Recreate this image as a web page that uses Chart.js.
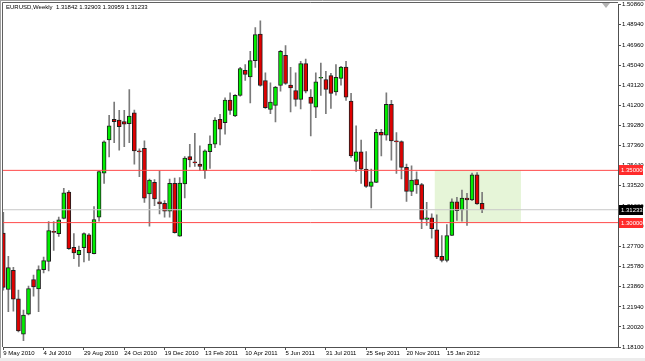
<!DOCTYPE html>
<html>
<head>
<meta charset="utf-8">
<script src="https://cdn.jsdelivr.net/npm/chart.js@4.4.1/dist/chart.umd.min.js"></script>
<style>
html, body { margin: 0; padding: 0; background: #fff; }
#wrap { width: 645px; height: 361px; }
</style>
</head>
<body>
<div id="wrap"><canvas id="chart"></canvas></div>
<script>
const symbolTitle = 'EURUSD,Weekly  1.31842 1.32903 1.30959 1.31233';

// weekly bars, first bar = week of 9 May 2010
const opens = [
  1.2899, 1.2360, 1.2544, 1.2271, 1.1932, 1.2125, 1.2456, 1.2366, 1.2551, 1.2630,
  1.2911, 1.2894, 1.3040, 1.3293, 1.2763, 1.2694, 1.2760, 1.2884, 1.2703, 1.3052,
  1.3474, 1.3791, 1.3988, 1.3982, 1.3966, 1.3947, 1.4051, 1.3682, 1.3712, 1.3274,
  1.3385, 1.3198, 1.3185, 1.3109, 1.3375, 1.2871, 1.3370, 1.3632, 1.3577, 1.3560,
  1.3496, 1.3680, 1.3751, 1.3988, 1.3956, 1.4172, 1.4020, 1.4217, 1.4458, 1.4394,
  1.4550, 1.4803, 1.4360, 1.4084, 1.4122, 1.4312, 1.4601, 1.4315, 1.4264, 1.4179,
  1.4521, 1.4201, 1.4105, 1.4381, 1.4369, 1.4407, 1.4251, 1.4379, 1.4489, 1.4163,
  1.3585, 1.3677, 1.3512, 1.3347, 1.3385, 1.3865, 1.3837, 1.4131, 1.3777, 1.3775,
  1.3528, 1.3299, 1.3411, 1.3363, 1.3030, 1.3046, 1.2932, 1.2677, 1.2639, 1.2877,
  1.3198, 1.3122, 1.3236, 1.3217, 1.3458, 1.31842
];
const highs = [
  1.3099, 1.2677, 1.2573, 1.2354, 1.2163, 1.2392, 1.2497, 1.2587, 1.2671, 1.3011,
  1.3011, 1.3052, 1.3328, 1.3306, 1.2894, 1.2776, 1.2903, 1.2894, 1.3153, 1.3496,
  1.3782, 1.4026, 1.4153, 1.4074, 1.4074, 1.4274, 1.4077, 1.3706, 1.3782, 1.3417,
  1.3411, 1.3496, 1.3211, 1.3417, 1.3427, 1.3432, 1.3632, 1.3750, 1.3855, 1.3734,
  1.3696, 1.3830, 1.4004, 1.4036, 1.4194, 1.4242, 1.4226, 1.4486, 1.4512, 1.4639,
  1.4867, 1.4931, 1.4432, 1.4337, 1.4305, 1.4648, 1.4693, 1.4486, 1.4432, 1.4543,
  1.4565, 1.4274, 1.4432, 1.4527, 1.4448, 1.4429, 1.4512, 1.4496, 1.4543, 1.4236,
  1.3925, 1.3789, 1.3680, 1.3512, 1.3893, 1.3893, 1.4242, 1.4169, 1.3861, 1.3782,
  1.3560, 1.3544, 1.3487, 1.3375, 1.3194, 1.3084, 1.3074, 1.2877, 1.2982, 1.3227,
  1.3242, 1.3312, 1.3280, 1.3474, 1.3480, 1.32903
];
const lows = [
  1.2354, 1.2147, 1.2154, 1.1954, 1.1871, 1.2116, 1.2297, 1.2147, 1.2519, 1.2537,
  1.2735, 1.2868, 1.3036, 1.2744, 1.2656, 1.2582, 1.2623, 1.2639, 1.2700, 1.3013,
  1.3375, 1.3629, 1.3766, 1.3693, 1.3727, 1.3766, 1.3560, 1.3439, 1.3194, 1.2966,
  1.3163, 1.3084, 1.3052, 1.3052, 1.2899, 1.2868, 1.3236, 1.3534, 1.3537, 1.3496,
  1.3423, 1.3518, 1.3718, 1.3744, 1.3846, 1.4036, 1.4013, 1.4210, 1.4360, 1.4146,
  1.4486, 1.4305, 1.4093, 1.4042, 1.3963, 1.4258, 1.4322, 1.4058, 1.4115, 1.4089,
  1.4242, 1.3830, 1.4004, 1.4217, 1.4042, 1.4093, 1.4220, 1.4315, 1.4169, 1.3623,
  1.3489, 1.3375, 1.3337, 1.3141, 1.3382, 1.3639, 1.3789, 1.3598, 1.3470, 1.3417,
  1.3204, 1.3258, 1.3280, 1.2941, 1.2973, 1.2852, 1.2656, 1.2623, 1.2623, 1.2875,
  1.3020, 1.3013, 1.2973, 1.3211, 1.3173, 1.30959
];
const closes = [
  1.2380, 1.2570, 1.2268, 1.1963, 1.2116, 1.2370, 1.2385, 1.2551, 1.2637, 1.2925,
  1.2906, 1.3027, 1.3284, 1.2751, 1.2709, 1.2735, 1.2894, 1.2709, 1.3030, 1.3489,
  1.3772, 1.3925, 1.3966, 1.3918, 1.3941, 1.4020, 1.3687, 1.3677, 1.3233, 1.3408,
  1.3227, 1.3179, 1.3109, 1.3375, 1.2903, 1.3379, 1.3617, 1.3601, 1.3572, 1.3537,
  1.3687, 1.3751, 1.3982, 1.3893, 1.4172, 1.4074, 1.4217, 1.4474, 1.4417, 1.4550,
  1.4798, 1.4312, 1.4099, 1.4153, 1.4296, 1.4639, 1.4331, 1.4289, 1.4179, 1.4521,
  1.4258, 1.4141, 1.4346, 1.4386, 1.4274, 1.4236, 1.4391, 1.4489, 1.4201, 1.3639,
  1.3677, 1.3512, 1.3347, 1.3391, 1.3865, 1.3837, 1.4131, 1.3782, 1.3772, 1.3528,
  1.3299, 1.3408, 1.3360, 1.3030, 1.3046, 1.2941, 1.2671, 1.2639, 1.2877, 1.3198,
  1.3115, 1.3236, 1.3217, 1.3458, 1.3179, 1.31233
];

// one date label every 8 weeks, starting at bar 0
const dateLabels = ['9 May 2010', '4 Jul 2010', '29 Aug 2010', '24 Oct 2010', '19 Dec 2010', '13 Feb 2011',
  '10 Apr 2011', '5 Jun 2011', '31 Jul 2011', '25 Sep 2011', '20 Nov 2011', '15 Jan 2012'];
const priceTicks = [1.50860, 1.48940, 1.46960, 1.45040, 1.43120, 1.41200, 1.39280, 1.37360, 1.35440,
  1.33520, 1.31600, 1.29680, 1.27700, 1.25780, 1.23860, 1.21940, 1.20020, 1.18100];
const levels = [1.35000, 1.30000];
const lastPrice = 1.31233;
const zone = { from: 85.6, to: 102.7, top: 1.35000, bottom: 1.30000 };

const weeks = opens.map((_, i) => i);
const wicks = weeks.map(i => ({ x: i, y: [lows[i], highs[i]] }));
const bodies = weeks.map(i => ({ x: i, y: [Math.min(opens[i], closes[i]), Math.max(opens[i], closes[i])] }));
const bodyColors = weeks.map(i => closes[i] >= opens[i] ? '#00ee00' : '#e00000');

const font = '"Liberation Sans", Arial, sans-serif';

function hline(v, color) {
  return {
    type: 'line', data: [{ x: -5, y: v }, { x: 130, y: v }],
    borderColor: color, borderWidth: 1, pointRadius: 0, order: 0
  };
}

const decor = {
  id: 'decor',
  beforeDraw(chart) {
    const ctx = chart.ctx;
    ctx.save();
    ctx.fillStyle = '#ffffff';
    ctx.fillRect(0, 0, chart.width, chart.height);
    ctx.fillStyle = '#ececec';
    ctx.fillRect(0, 358, chart.width, 3);
    ctx.restore();
  },
  beforeDatasetsDraw(chart) {
    const { ctx, chartArea, scales: { x, y } } = chart;
    ctx.save();
    ctx.beginPath();
    ctx.rect(chartArea.left, chartArea.top, chartArea.width, chartArea.height);
    ctx.clip();
    const x0 = x.getPixelForValue(zone.from), x1 = x.getPixelForValue(zone.to);
    const y0 = y.getPixelForValue(zone.top), y1 = y.getPixelForValue(zone.bottom);
    ctx.fillStyle = '#e6f5d8';
    ctx.fillRect(x0, y0, x1 - x0, y1 - y0);
    ctx.restore();
  },
  afterDraw(chart) {
    const { ctx, chartArea, scales: { y } } = chart;
    ctx.save();
    // window frame
    ctx.strokeStyle = '#a0a0a0';
    ctx.lineWidth = 1;
    ctx.beginPath();
    ctx.moveTo(0.5, 0); ctx.lineTo(0.5, 358);
    ctx.moveTo(0, 0.5); ctx.lineTo(chart.width, 0.5);
    ctx.stroke();
    ctx.strokeStyle = '#606060';
    ctx.beginPath();
    ctx.moveTo(2.5, 2.5); ctx.lineTo(2.5, chartArea.bottom);
    ctx.moveTo(2.5, 2.5); ctx.lineTo(chartArea.right, 2.5);
    ctx.stroke();

    // chart shift marker
    ctx.fillStyle = '#b4b4b4';
    ctx.beginPath();
    ctx.moveTo(602, 3); ctx.lineTo(610, 3); ctx.lineTo(606, 8);
    ctx.closePath();
    ctx.fill();

    ctx.font = '6px ' + font;
    ctx.textBaseline = 'middle';
    ctx.fillStyle = '#000';
    ctx.fillText(symbolTitle, 6, 7.5);

    const tag = (v, bg) => {
      const py = Math.round(y.getPixelForValue(v));
      ctx.fillStyle = bg;
      ctx.fillRect(chartArea.right + 1, py - 5, 24, 10);
      ctx.fillStyle = '#fff';
      ctx.fillText(v.toFixed(5), chartArea.right + 3, py + 0.5);
    };
    levels.forEach(v => tag(v, '#ff2b2b'));
    tag(lastPrice, '#000');
    ctx.restore();
  }
};

new Chart(document.getElementById('chart'), {
  type: 'bar',
  data: {
    datasets: [
      hline(levels[0], '#ff4a4a'),
      hline(levels[1], '#ff4a4a'),
      hline(lastPrice, '#c8c8c8'),
      {
        label: 'wick', data: wicks, backgroundColor: '#7a7a7a',
        barThickness: 1, grouped: false, order: 2
      },
      {
        label: 'body', data: bodies, backgroundColor: bodyColors,
        borderColor: '#1e1e1e', borderWidth: 1, borderSkipped: false,
        barThickness: 4, minBarLength: 1, grouped: false, order: 1
      }
    ]
  },
  options: {
    responsive: true,
    maintainAspectRatio: false,
    animation: false,
    layout: { padding: { left: 3, top: 3, right: 0, bottom: 0 } },
    plugins: { legend: { display: false }, tooltip: { enabled: false } },
    scales: {
      x: {
        type: 'linear', min: -0.06, max: 121.96, offset: false,
        afterBuildTicks: s => { s.ticks = dateLabels.map((_, k) => ({ value: k * 8 })); },
        afterFit: s => { s.height = 14; },
        grid: { drawOnChartArea: false, drawTicks: true, tickLength: 3, color: '#505050', offset: false },
        border: { display: true, color: '#505050' },
        ticks: {
          autoSkip: false, maxRotation: 0, align: 'start', padding: 0,
          color: '#000', font: { family: font, size: 6 },
          callback: (v) => dateLabels[Math.round(v / 8)]
        }
      },
      y: {
        type: 'linear', position: 'right', min: 1.18100, max: 1.50860,
        afterBuildTicks: s => { s.ticks = priceTicks.map(v => ({ value: v })); },
        afterFit: s => { s.width = 27; },
        grid: { drawOnChartArea: false, drawTicks: true, tickLength: 3, color: '#505050' },
        border: { display: true, color: '#505050' },
        ticks: {
          padding: 1, color: '#000', font: { family: font, size: 6 },
          callback: (v) => Number(v).toFixed(5)
        }
      }
    }
  },
  plugins: [decor]
});
</script>
</body>
</html>
